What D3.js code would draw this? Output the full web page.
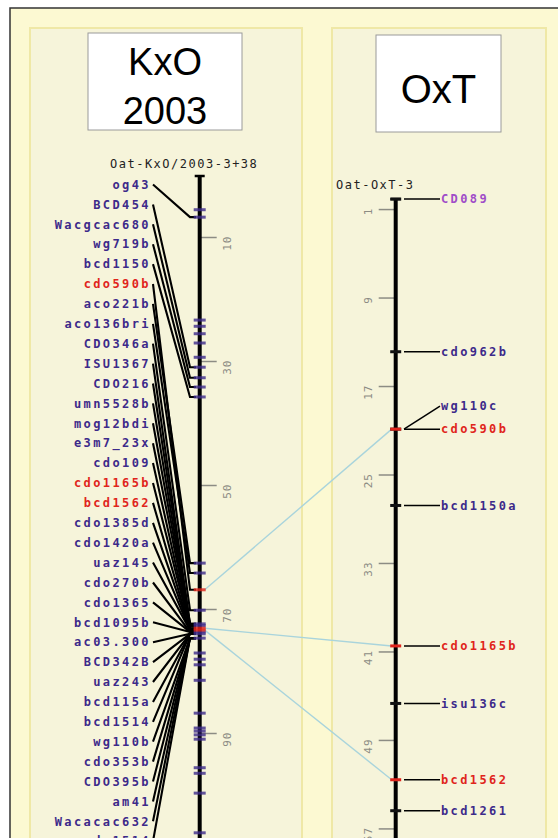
<!DOCTYPE html>
<html><head><meta charset="utf-8">
<script src="https://cdn.jsdelivr.net/npm/d3@7"></script>
<style>
html,body{margin:0;padding:0;background:#fff;overflow:hidden;}
svg{display:block;}
</style></head>
<body><svg id="c" width="558" height="838"></svg>
<script>
// ---------------- data ----------------
const kxoTitle = ["KxO", "2003"];
const oxtTitle = ["OxT"];
const kxoMapName = "Oat-KxO/2003-3+38";
const oxtMapName = "Oat-OxT-3";

// KxO map: labelled markers (name, colour class, position in cM)
const kxoNames = ["og43","BCD454","Wacgcac680","wg719b","bcd1150","cdo590b","aco221b","aco136bri",
  "CDO346a","ISU1367","CDO216","umn5528b","mog12bdi","e3m7_23x","cdo109","cdo1165b","bcd1562",
  "cdo1385d","cdo1420a","uaz145","cdo270b","cdo1365","bcd1095b","ac03.300","BCD342B","uaz243",
  "bcd115a","bcd1514","wg110b","cdo353b","CDO395b","am41","Wacacac632","cdo1514"];
const kxoColors = ["p","p","p","p","p","r","p","p","p","p","p","p","p","p","p","r","r",
  "p","p","p","p","p","p","p","p","p","p","p","p","p","p","p","p","p"];
const kxoPos = [6.8,31.0,32.7,34.2,35.8,66.9,62.6,64.2,70.2,72.4,72.4,72.7,72.7,72.7,73.1,73.1,73.4,
  73.4,73.4,73.4,73.7,73.7,73.7,74.0,74.0,74.0,74.0,74.0,74.7,74.7,74.7,74.7,74.7,74.7];
// marker ticks drawn on the KxO bar (cM) and their colour class
const kxoTickPos = [5.6,6.8,23.4,24.4,25.6,27.1,29.4,31.0,32.7,34.2,35.8,62.6,64.2,66.9,70.2,72.4,72.7,
  73.1,73.4,73.7,74.0,74.7,77.1,78.1,79.0,81.5,86.8,89.2,89.7,90.3,91.0,95.6,96.5,99.7,106.1];
const kxoTickColor = ["p","p","p","p","p","p","p","p","p","p","p","p","p","r","p","p","p",
  "r","r","p","p","p","p","p","p","p","p","p","p","p","p","p","p","p","p"];
const kxoScaleTicks = [10,30,50,70,90];

// OxT map
const oxtNames = ["CD089","cdo962b","wg110c","cdo590b","bcd1150a","cdo1165b","isu136c","bcd1562","bcd1261"];
const oxtColors = ["l","p","p","r","p","r","p","r","p"];
const oxtPos = [0.1,13.9,20.9,20.9,27.8,40.5,45.7,52.6,55.4];
const oxtScaleTicks = [1,9,17,25,33,41,49,57];

// correspondences between the two maps (shared marker names)
const corrNames = ["cdo590b","cdo1165b","bcd1562"];

// ---------------- drawing ----------------
const svg = d3.select("#c");
const col = {p:"#3d2a8a", r:"#e0251c", l:"#a04cc8"};
const labelFont = "'DejaVu Sans Mono', monospace";

// background / frame
svg.append("rect").attr("x",0).attr("y",0).attr("width",558).attr("height",838).attr("fill","#ffffff");
svg.append("rect").attr("x",10).attr("y",8).attr("width",560).attr("height",840).attr("fill","#fcf9d2")
  .attr("stroke","#333").attr("stroke-width",1.5);
[[30,302],[332,546]].forEach(([a,b])=>{
  svg.append("rect").attr("x",a).attr("y",28).attr("width",b-a).attr("height",830)
    .attr("fill","#f6f4da").attr("stroke","#efe8a6").attr("stroke-width",2);
});

// title boxes
function titleBox(x0,x1,y0,y1,lines,baselines,size){
  svg.append("rect").attr("x",x0).attr("y",y0).attr("width",x1-x0).attr("height",y1-y0)
    .attr("fill","#fff").attr("stroke","#9a9a9a").attr("stroke-width",1);
  lines.forEach((t,i)=>svg.append("text").attr("x",(x0+x1)/2).attr("y",baselines[i])
    .attr("text-anchor","middle").attr("font-family","'Liberation Sans', Arial, sans-serif")
    .attr("font-size",size).attr("fill","#000").text(t));
}
titleBox(88,242,33,130,kxoTitle,[75,124],38);
titleBox(376,501,35,132,oxtTitle,[103],40);

// scales
const yK = d3.scaleLinear().domain([0,100]).range([175,795]);
const yO = d3.scaleLinear().domain([0,50]).range([198,751]);
const kx = 199.7, ox = 395.7;

// map names
svg.append("text").attr("x",110).attr("y",168).attr("font-family",labelFont).attr("font-size",12)
  .attr("letter-spacing",1.5).attr("fill","#222").text(kxoMapName);
svg.append("text").attr("x",336).attr("y",189).attr("font-family",labelFont).attr("font-size",12)
  .attr("letter-spacing",1.5).attr("fill","#222").text(oxtMapName);

// correspondence lines (behind)
const gC = svg.append("g");
corrNames.forEach(n=>{
  const a = kxoPos[kxoNames.indexOf(n)], b = oxtPos[oxtNames.indexOf(n)];
  gC.append("line").attr("x1",kx+5).attr("y1",yK(a)).attr("x2",ox-4).attr("y2",yO(b))
    .attr("stroke","#a9d4dc").attr("stroke-width",1.4);
});

// scale axes
const axK = d3.axisRight(yK).tickValues(kxoScaleTicks).tickSize(17).tickFormat(d3.format("d"));
const gK = svg.append("g").attr("transform",`translate(${kx},0)`).call(axK);
gK.select(".domain").remove();
gK.selectAll(".tick line").attr("stroke","#8c8c84").attr("stroke-width",1.5);
gK.selectAll(".tick text").attr("x",null).attr("dy",null).attr("text-anchor","end")
  .attr("transform","translate(31,-2) rotate(-90)").attr("fill","#8c8c84")
  .attr("font-family",labelFont).attr("font-size",11).attr("letter-spacing",1);

const axO = d3.axisLeft(yO).tickValues(oxtScaleTicks).tickSize(17).tickFormat(d3.format("d"));
const gO = svg.append("g").attr("transform",`translate(${ox},0)`).call(axO);
gO.select(".domain").remove();
gO.selectAll(".tick line").attr("stroke","#8c8c84").attr("stroke-width",1.5);
gO.selectAll(".tick text").attr("x",null).attr("dy",null).attr("text-anchor","end")
  .attr("transform","translate(-24,-2) rotate(-90)").attr("fill","#8c8c84")
  .attr("font-family",labelFont).attr("font-size",11).attr("letter-spacing",1);

// chromosome bars
function bar(x,y0,y1){
  svg.append("line").attr("x1",x).attr("x2",x).attr("y1",y0).attr("y2",y1)
    .attr("stroke","#000").attr("stroke-width",4);
  svg.append("line").attr("x1",x-5).attr("x2",x+5).attr("y1",y0+1).attr("y2",y0+1)
    .attr("stroke","#000").attr("stroke-width",2.5);
}
bar(kx,yK(0),yK(110));
bar(ox,yO(0),yO(60));

// KxO connectors & labels
const labY0 = 184.5, labStep = 19.9;
const gL = svg.append("g");
kxoNames.forEach((n,i)=>{
  const yl = labY0 + i*labStep, ym = yK(kxoPos[i]);
  gL.append("path").attr("d",`M153,${yl}L190,${ym}L196,${ym}`)
    .attr("fill","none").attr("stroke","#000").attr("stroke-width",2.1);
  gL.append("text").attr("x",151).attr("y",yl).attr("dy","0.35em").attr("text-anchor","end")
    .attr("font-family",labelFont).attr("font-weight","bold").attr("font-size",12)
    .attr("letter-spacing",2.4).attr("fill",col[kxoColors[i]]).text(n);
});
// KxO ticks on bar
["p","r"].forEach(c=>{
  svg.append("g").selectAll("rect").data(kxoTickPos.filter((d,i)=>kxoTickColor[i]===c)).join("rect")
    .attr("x",kx-6).attr("width",12).attr("y",d=>yK(d)-1.5).attr("height",3)
    .attr("fill",col[c]).attr("fill-opacity",0.8);
});

// OxT markers
const oLabY = oxtPos.map(p=>yO(p));
for(let i=oxtPos.length-2;i>=0;i--){
  if(oLabY[i+1]-oLabY[i] < 14) oLabY[i] = oLabY[i+1]-23;
}
oxtNames.forEach((n,i)=>{
  const ym = yO(oxtPos[i]), yl = oLabY[i];
  svg.append("rect").attr("x",ox-5.5).attr("width",11).attr("y",ym-1.5).attr("height",3)
    .attr("fill",oxtColors[i]==="r"?col.r:"#111");
  svg.append("path").attr("d",`M404,${ym}L440,${yl}`).attr("fill","none")
    .attr("stroke","#000").attr("stroke-width",1.5);
  svg.append("text").attr("x",441).attr("y",yl).attr("dy","0.35em")
    .attr("font-family",labelFont).attr("font-weight","bold").attr("font-size",12)
    .attr("letter-spacing",2.4).attr("fill",col[oxtColors[i]]).text(n);
});
</script>
</body></html>
